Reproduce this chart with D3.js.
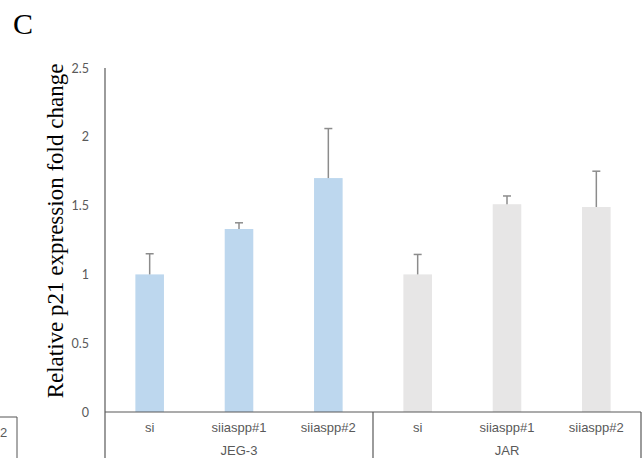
<!DOCTYPE html>
<html>
<head>
<meta charset="utf-8">
<script src="https://cdn.jsdelivr.net/npm/d3@7"></script>
<style>
  html, body { margin: 0; padding: 0; background: #fff; }
  svg { display: block; }
</style>
</head>
<body>
<svg id="chart" width="643" height="458"></svg>
<script>
// Relative p21 expression, two cell lines, three siRNA conditions each
const groups = ["JEG-3", "JAR"];
const conditions = ["si", "siiaspp#1", "siiaspp#2"];
const jeg3Values = [1.00, 1.33, 1.70];
const jeg3Errors = [0.15, 0.045, 0.36];
const jarValues = [1.00, 1.51, 1.49];
const jarErrors = [0.145, 0.06, 0.26];
const yTicks = [0, 0.5, 1, 1.5, 2, 2.5];

const groupColors = { "JEG-3": "#BDD7EE", "JAR": "#E7E6E6" };

const rows = [];
groups.forEach((g, gi) => {
  const vals = gi === 0 ? jeg3Values : jarValues;
  const errs = gi === 0 ? jeg3Errors : jarErrors;
  conditions.forEach((c, ci) => {
    rows.push({ key: g + "|" + c, group: g, cond: c, value: vals[ci], err: errs[ci] });
  });
});

const svg = d3.select("#chart");
const plotLeft = 105, plotRight = 641, plotTop = 68, zeroY = 412;
const labelFont = "'Liberation Sans Narrow', 'Liberation Sans', Arial, sans-serif";

const x = d3.scaleBand().domain(rows.map(d => d.key)).range([plotLeft, plotRight]).paddingInner(0.68).paddingOuter(0.34);
const y = d3.scaleLinear().domain([0, 2.5]).range([zeroY, plotTop]);

// panel letter
svg.append("text").attr("x", 13).attr("y", 34)
  .attr("font-family", "'Liberation Serif', 'Times New Roman', serif")
  .attr("font-size", 30).attr("fill", "#000").text("C");

// edge of the neighbouring panel at far left
svg.append("path").attr("d", `M0,417H17V458`).attr("fill", "none").attr("stroke", "#555").attr("stroke-width", 1);
svg.append("text").attr("x", 0).attr("y", 437)
  .attr("font-family", labelFont)
  .attr("font-size", 13).attr("fill", "#595959").text("2");

// y axis labels
const yAxis = d3.axisLeft(y).tickValues(yTicks).tickSize(0).tickPadding(16).tickFormat(d3.format("~g"));
const ya = svg.append("g").attr("transform", `translate(${plotLeft},0)`).call(yAxis);
ya.select(".domain").remove();
ya.selectAll("text").attr("font-family", "Lato, 'Open Sans', sans-serif")
  .attr("font-size", 12.5).attr("fill", "#595959");

// y axis title
svg.append("text")
  .attr("transform", `translate(63,231) rotate(-90)`)
  .attr("text-anchor", "middle")
  .attr("font-family", "'Liberation Serif', 'Times New Roman', serif")
  .attr("font-size", 23).attr("fill", "#000")
  .text("Relative p21 expression fold change");

// bars
svg.append("g").selectAll("rect").data(rows).join("rect")
  .attr("x", d => x(d.key)).attr("width", x.bandwidth())
  .attr("y", d => y(d.value)).attr("height", d => y(0) - y(d.value))
  .attr("fill", d => groupColors[d.group]);

// error bars (upper only)
const eb = svg.append("g").attr("stroke", "#8C8C8C").attr("stroke-width", 1.5).attr("fill", "none");
rows.forEach(d => {
  const cx = x(d.key) + x.bandwidth() / 2;
  eb.append("line").attr("x1", cx).attr("x2", cx).attr("y1", y(d.value)).attr("y2", y(d.value + d.err));
  eb.append("line").attr("x1", cx - 4).attr("x2", cx + 4).attr("y1", y(d.value + d.err)).attr("y2", y(d.value + d.err));
});

// axis lines and grouped category frame
const step = x.step();
const frame = svg.append("g").attr("stroke", "#595959").attr("stroke-width", 1.2).attr("fill", "none");
frame.append("line").attr("x1", plotLeft).attr("x2", plotLeft).attr("y1", plotTop).attr("y2", 458);
frame.append("line").attr("x1", plotLeft).attr("x2", plotRight).attr("y1", zeroY).attr("y2", zeroY);
frame.append("line").attr("x1", plotRight).attr("x2", plotRight).attr("y1", zeroY).attr("y2", 458);
const groupEdge = plotLeft + conditions.length * step;
frame.append("line").attr("x1", groupEdge).attr("x2", groupEdge).attr("y1", zeroY).attr("y2", 458);

// category labels
svg.append("g").selectAll("text").data(rows).join("text")
  .attr("x", d => x(d.key) + x.bandwidth() / 2).attr("y", 432)
  .attr("text-anchor", "middle")
  .attr("font-family", labelFont)
  .attr("font-size", 13).attr("fill", "#595959").text(d => d.cond);

// group labels
svg.append("g").selectAll("text").data(groups).join("text")
  .attr("x", (g, i) => plotLeft + (i + 0.5) * conditions.length * step).attr("y", 455)
  .attr("text-anchor", "middle")
  .attr("font-family", labelFont)
  .attr("font-size", 13).attr("fill", "#595959").text(g => g);
</script>
</body>
</html>
